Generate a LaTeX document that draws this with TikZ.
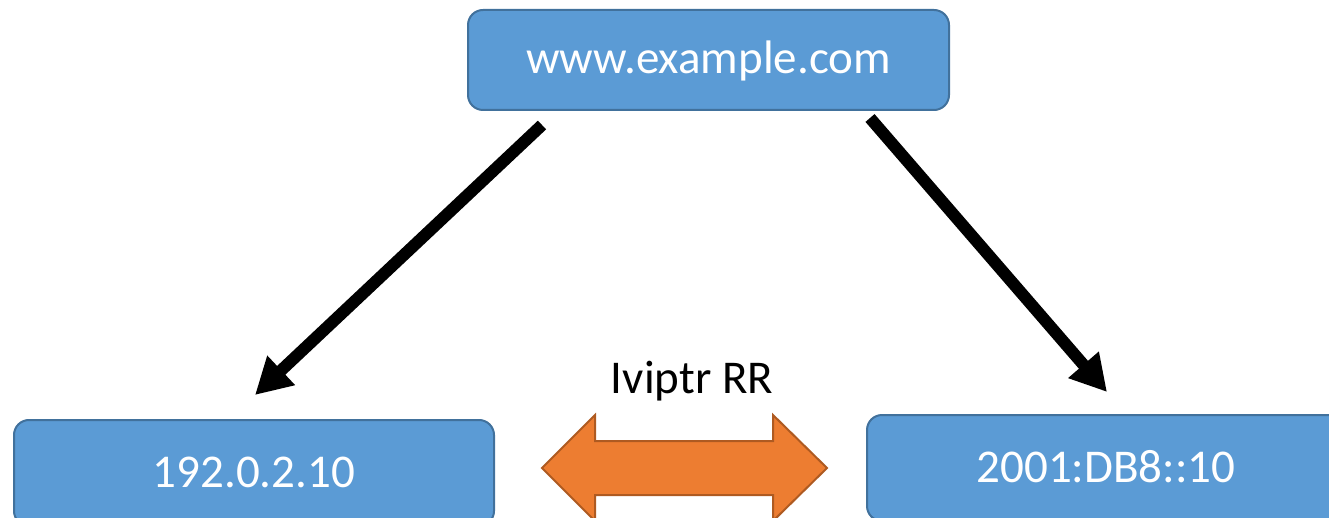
\documentclass[tikz,border=0pt]{standalone}
\usepackage{fontspec}
\setmainfont{Carlito}
\usetikzlibrary{arrows.meta}
\definecolor{boxfill}{HTML}{5B9BD5}
\definecolor{boxline}{HTML}{41719C}
\definecolor{orfill}{HTML}{ED7D31}
\definecolor{orline}{HTML}{AE5A21}
\begin{document}
\begin{tikzpicture}[x=1pt,y=-1pt,
  ipbox/.style={draw=boxline, line width=2pt, fill=boxfill, rounded corners=15pt,
    text=white, font=\fontsize{47}{56}\selectfont, text height=36pt, text depth=8pt,
    inner sep=0pt, outer sep=0pt},
  lbl/.style={text=black, font=\fontsize{47}{56}\selectfont, text height=36pt, text depth=8pt, inner sep=0pt},
  fat/.style={line width=12pt, -{Triangle[length=36pt,width=38pt]}},
  dbl/.style={draw=orline, line width=2pt, fill=orfill, line join=miter}]
\useasboundingbox (0,0) rectangle (1329,518);
\clip (0,0) rectangle (1329,518);
\node[ipbox, minimum width=481pt, minimum height=100pt] (top) at (708.5,60) {www.example.com};
\node[ipbox, minimum width=480pt, minimum height=106pt] (v4) at (254,473) {192.0.2.10};
\node[ipbox, minimum width=478pt, minimum height=106pt] (v6) at (1106,468) {2001:DB8::10};
\node[lbl] (rr) at (692,379) {Iviptr RR};
\coordinate (ls) at (542,125);
\coordinate (le) at (255,395);
\coordinate (rs) at (870,118);
\coordinate (re) at (1107,392);
\draw[fat] (ls) -- (le);
\draw[fat] (rs) -- (re);
\draw[dbl] (542,468) -- (595,415) -- (595,441) -- (773,441) -- (773,415) -- (827,468)
  -- (773,521) -- (773,495) -- (595,495) -- (595,521) -- cycle;
\end{tikzpicture}
\end{document}
